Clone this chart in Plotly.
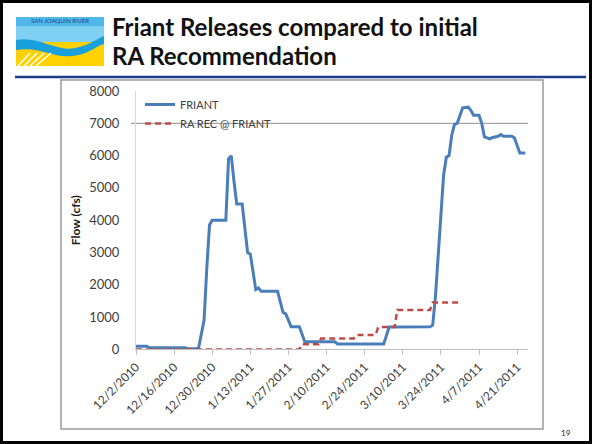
import plotly.graph_objects as go

W, H = 592, 444

# ---------------- data ----------------
friant_dates = [
    "2010-12-02", "2010-12-06", "2010-12-07", "2010-12-20", "2010-12-21", "2010-12-24",
    "2010-12-25", "2010-12-26", "2010-12-27", "2010-12-28", "2010-12-29", "2010-12-30",
    "2011-01-04", "2011-01-05", "2011-01-06", "2011-01-07", "2011-01-08", "2011-01-10",
    "2011-01-11", "2011-01-12", "2011-01-13", "2011-01-14", "2011-01-15", "2011-01-16",
    "2011-01-17", "2011-01-23", "2011-01-24", "2011-01-25", "2011-01-26", "2011-01-27",
    "2011-01-28", "2011-01-31", "2011-02-01", "2011-02-02", "2011-02-13", "2011-02-14",
    "2011-03-03", "2011-03-04", "2011-03-05", "2011-03-20", "2011-03-21", "2011-03-22",
    "2011-03-23", "2011-03-24", "2011-03-25", "2011-03-26", "2011-03-27", "2011-03-28",
    "2011-03-29", "2011-03-30", "2011-03-31", "2011-04-01", "2011-04-03", "2011-04-04",
    "2011-04-05", "2011-04-07", "2011-04-08", "2011-04-09", "2011-04-11", "2011-04-12",
    "2011-04-14", "2011-04-15", "2011-04-16", "2011-04-19", "2011-04-20", "2011-04-21",
    "2011-04-22", "2011-04-24",
]
friant_cfs = [
    100, 100, 50, 50, 20, 20,
    50, 500, 900, 2500, 3850, 4000,
    4000, 5900, 6000, 5200, 4500, 4500,
    3800, 3000, 2950, 2400, 1850, 1900,
    1800, 1800, 1450, 1150, 1100, 900,
    700, 700, 450, 240, 240, 170,
    170, 450, 690, 700, 750, 1630,
    2870, 4400, 5400, 5950, 6000, 6640,
    6970, 7000, 7250, 7480, 7500, 7400,
    7250, 7250, 7000, 6580, 6520, 6560,
    6600, 6650, 6600, 6600, 6550, 6300,
    6080, 6080,
]

rarec_dates = [
    "2010-12-02", "2011-01-31", "2011-02-01", "2011-02-07", "2011-02-08", "2011-02-20",
    "2011-02-21", "2011-02-28", "2011-03-01", "2011-03-07", "2011-03-08", "2011-03-20",
    "2011-03-21", "2011-03-31",
]
rarec_cfs = [0, 0, 160, 160, 340, 340, 446, 446, 690, 690, 1220, 1220, 1450, 1450]

tick_dates = ["2010-12-02", "2010-12-16", "2010-12-30", "2011-01-13", "2011-01-27",
              "2011-02-10", "2011-02-24", "2011-03-10", "2011-03-24", "2011-04-07",
              "2011-04-21"]
tick_labels = ["12/2/2010", "12/16/2010", "12/30/2010", "1/13/2011", "1/27/2011",
               "2/10/2011", "2/24/2011", "3/10/2011", "3/24/2011", "4/7/2011",
               "4/21/2011"]
y_ticks = [0, 1000, 2000, 3000, 4000, 5000, 6000, 7000, 8000]
ref_level = 7000

series_names = ["FRIANT", "RA REC @ FRIANT"]
title_lines = ["Friant Releases compared to initial", "RA Recommendation"]
y_title = "Flow (cfs)"
page_no = "19"

# ---------------- helpers ----------------
def px(x):
    return x / W

def py(y):
    return 1 - y / H

FONT = "Lato, 'Open Sans', sans-serif"
TEXT = "#404040"

fig = go.Figure()
fig.add_trace(go.Scatter(
    x=friant_dates, y=friant_cfs, mode="lines", name=series_names[0],
    line=dict(color="#4a7ebb", width=3)))
fig.add_trace(go.Scatter(
    x=rarec_dates, y=rarec_cfs, mode="lines", name=series_names[1],
    line=dict(color="#be4b48", width=2.5, dash="6px,4px")))

x0, x1 = 136, 528
y_top, y_bot = 91, 349.4

fig.update_layout(
    template="none",
    width=W, height=H,
    margin=dict(l=0, r=0, t=0, b=0, pad=0),
    paper_bgcolor="white", plot_bgcolor="white",
    font=dict(family=FONT, color=TEXT, size=12),
    xaxis=dict(
        domain=[px(x0), px(x1)], automargin=False,
        type="date", range=["2010-12-02", "2011-04-25"],
        tickmode="array", tickvals=tick_dates, ticktext=tick_labels,
        tickangle=-45, tickfont=dict(size=12, color=TEXT, family=FONT),
        ticks="outside", ticklen=5, tickcolor="#bfbfbf",
        showline=True, linecolor="#bfbfbf", linewidth=1,
        showgrid=False, zeroline=False,
    ),
    yaxis=dict(
        domain=[py(y_bot), py(y_top)], automargin=False,
        range=[0, 8000], tickmode="array", tickvals=y_ticks,
        tickfont=dict(size=13, color=TEXT, family=FONT),
        ticks="", ticklabelstandoff=13,
        showline=True, linecolor="#d9d9d9", linewidth=1,
        showgrid=False, zeroline=False,
        title=dict(text="<b>" + y_title + "</b>", font=dict(size=12, color="#1a1a1a", family=FONT),
                   standoff=6),
    ),
    showlegend=True,
    legend=dict(
        x=px(140), y=py(90), xanchor="left", yanchor="top",
        bgcolor="rgba(0,0,0,0)", borderwidth=0,
        font=dict(size=11, color=TEXT, family=FONT),
        tracegroupgap=0, itemwidth=30,
    ),
)

shapes = []
# 7000 reference line
shapes.append(dict(type="line", xref="paper", yref="y", x0=px(131), x1=px(x1),
                   y0=ref_level, y1=ref_level, line=dict(color="#a6a6a6", width=1.2),
                   layer="below"))
# chart box
shapes.append(dict(type="rect", xref="paper", yref="paper", x0=px(61), x1=px(543),
                   y0=py(429), y1=py(80), line=dict(color="#9a9a9a", width=1.5),
                   layer="below"))
# slide underline
shapes.append(dict(type="line", xref="paper", yref="paper", x0=px(15), x1=px(586),
                   y0=py(77), y1=py(77), line=dict(color="#1c3c8e", width=2.5)))
# slide frame
shapes.append(dict(type="rect", xref="paper", yref="paper", x0=px(1.5), x1=px(590.5),
                   y0=py(442.5), y1=py(1.5), line=dict(color="black", width=3)))

# logo (simplified)
lx0, lx1, ly0, ly1 = 16, 104, 17, 66
shapes.append(dict(type="rect", xref="paper", yref="paper", x0=px(lx0), x1=px(lx1),
                   y0=py(ly1), y1=py(ly0), line=dict(width=0), fillcolor="#ffd100"))
shapes.append(dict(type="rect", xref="paper", yref="paper", x0=px(lx0), x1=px(lx1),
                   y0=py(42), y1=py(ly0), line=dict(width=0), fillcolor="#7fd0f2"))
shapes.append(dict(type="rect", xref="paper", yref="paper", x0=px(lx0), x1=px(lx1),
                   y0=py(26), y1=py(ly0), line=dict(width=0), fillcolor="#4fb8e8"))
def P(x, y):
    return f"{px(x):.5f},{py(y):.5f}"
wave = ("M " + P(16, 40) + " C " + P(40, 36) + " " + P(55, 52) + " " + P(75, 48)
        + " C " + P(90, 45) + " " + P(98, 38) + " " + P(104, 36)
        + " L " + P(104, 44) + " C " + P(96, 46) + " " + P(88, 55) + " " + P(72, 56)
        + " C " + P(52, 58) + " " + P(40, 46) + " " + P(16, 50) + " Z")
shapes.append(dict(type="path", xref="paper", yref="paper", path=wave,
                   fillcolor="#1aa0dc", line=dict(width=0)))
for k in range(4):
    shapes.append(dict(type="line", xref="paper", yref="paper",
                       x0=px(18 + 6 * k), y0=py(66), x1=px(30 + 7 * k), y1=py(53),
                       line=dict(color="white", width=1.5)))
fig.update_layout(shapes=shapes)

ann = []
ann.append(dict(text="SAN JOAQUIN RIVER", xref="paper", yref="paper", x=px(60), y=py(21),
                showarrow=False, font=dict(size=6, color="#1d3f94", family=FONT),
                xanchor="center", yanchor="middle"))
for i, t in enumerate(title_lines):
    ann.append(dict(text="<b>" + t + "</b>", xref="paper", yref="paper",
                    x=px(110), y=py(26.5 + 29 * i), xanchor="left", yanchor="middle",
                    showarrow=False, font=dict(size=24, color="#111111", family=FONT)))
ann.append(dict(text=page_no, xref="paper", yref="paper", x=px(566), y=py(433),
                showarrow=False, font=dict(size=8, color="#222222", family=FONT),
                xanchor="center", yanchor="middle"))
fig.update_layout(annotations=ann)

fig.write_html("out.html", config={"displayModeBar": False},
               post_script="document.body.style.margin='0px';document.body.style.padding='0px';")
